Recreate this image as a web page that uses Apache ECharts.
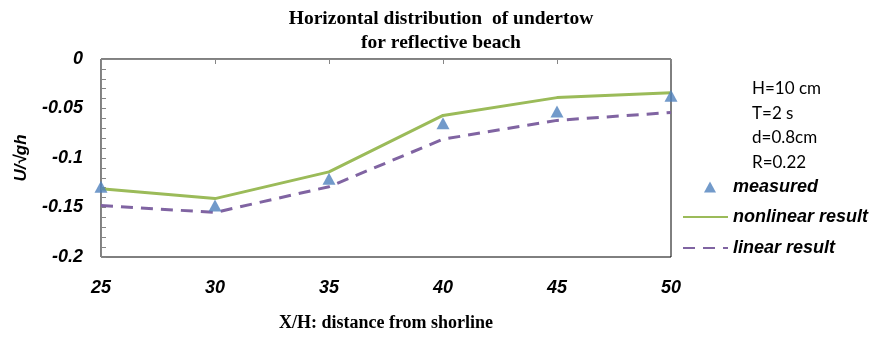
<!DOCTYPE html>
<html><head><meta charset="utf-8">
<script src="https://cdn.jsdelivr.net/npm/echarts@6/dist/echarts.min.js"></script>
<style>html,body{margin:0;padding:0;background:#fff}#c{width:870px;height:337px}</style>
</head><body><div id="c"></div>
<script>
const xValues = [25, 30, 35, 40, 45, 50];
const measured = [-0.129, -0.148, -0.121, -0.065, -0.053, -0.037];
const nonlinear = [-0.131, -0.141, -0.114, -0.057, -0.039, -0.034];
const linear = [-0.148, -0.155, -0.129, -0.081, -0.062, -0.054];
const infoLines = ['H=10 cm', 'T=2 s', 'd=0.8cm', 'R=0.22'];
const titleText = 'Horizontal distribution  of undertow\nfor reflective beach';

const pair = a => xValues.map((x, i) => [x, a[i]]);
const legText = {fontFamily: 'Liberation Sans, Arial', fontWeight: 'bold', fontStyle: 'italic', fontSize: 18, color: '#000'};

const chart = echarts.init(document.getElementById('c'), null, {renderer: 'canvas'});
chart.setOption({
  animation: false,
  backgroundColor: '#fff',
  title: {
    text: titleText, left: 436, top: 2, textAlign: 'center',
    textStyle: {fontFamily: 'Liberation Serif, Times New Roman', fontWeight: 'bold', fontSize: 19.5, lineHeight: 24, color: '#000'}
  },
  grid: {left: 101, right: 199, top: 59, bottom: 74, show: true, borderColor: '#000', borderWidth: 1},
  xAxis: {
    type: 'value', min: 25, max: 50, interval: 5,
    name: 'X/H: distance from shorline', nameLocation: 'middle', nameGap: 57,
    nameTextStyle: {fontFamily: 'Liberation Serif, Times New Roman', fontWeight: 'bold', fontSize: 18, color: '#000'},
    axisLine: {show: true, lineStyle: {color: '#868686', width: 1}},
    axisTick: {show: true, inside: false, length: 5, lineStyle: {color: '#868686'}},
    axisLabel: {margin: 22, fontFamily: 'Liberation Sans, Arial', fontWeight: 'bold', fontStyle: 'italic', fontSize: 18, color: '#000'},
    splitLine: {show: false}
  },
  yAxis: {
    type: 'value', min: -0.2, max: 0, interval: 0.05,
    name: 'U/√gh', nameLocation: 'middle', nameGap: 71, nameRotate: 90,
    nameTextStyle: {fontFamily: 'Liberation Sans, Arial', fontWeight: 'bold', fontStyle: 'italic', fontSize: 17, color: '#000'},
    axisLine: {show: true, lineStyle: {color: '#868686', width: 1}},
    axisTick: {show: true, inside: true, length: 5, lineStyle: {color: '#868686'}},
    minorTick: {show: true, splitNumber: 5, length: 5, lineStyle: {color: '#868686'}},
    axisLabel: {margin: 18, fontFamily: 'Liberation Sans, Arial', fontWeight: 'bold', fontStyle: 'italic', fontSize: 18, color: '#000'},
    splitLine: {show: false}
  },
  legend: [
    {data: ['measured'], left: 699, top: 173, itemWidth: 12, itemHeight: 11, icon: 'triangle',
     textStyle: Object.assign({padding: [0, 0, 0, 12]}, legText)},
    {data: ['nonlinear result'], left: 677, top: 203, itemWidth: 45, itemHeight: 14, itemStyle: {opacity: 0},
     textStyle: Object.assign({padding: [0, 0, 0, 0]}, legText)},
    {data: ['linear result'], left: 677, top: 234, itemWidth: 45, itemHeight: 14, itemStyle: {opacity: 0},
     textStyle: Object.assign({padding: [0, 0, 0, 0]}, legText)}
  ],
  graphic: infoLines.map((t, i) => ({
    type: 'text', left: 752, top: 80 + i * 24.6,
    style: {text: t, fontFamily: 'Lato, Carlito, sans-serif', fontSize: 17, fill: '#000'}
  })),
  series: [
    {name: 'nonlinear result', type: 'line', data: pair(nonlinear), symbol: 'none', z: 2,
     lineStyle: {color: '#9BBB59', width: 3}, itemStyle: {color: '#9BBB59'}},
    {name: 'linear result', type: 'line', data: pair(linear), symbol: 'none', z: 2,
     lineStyle: {color: '#8064A2', width: 3, type: [12, 8]}, itemStyle: {color: '#8064A2'}},
    {name: 'measured', type: 'scatter', data: pair(measured), symbol: 'triangle', symbolSize: [13, 12], z: 3,
     itemStyle: {color: '#4F81BD'}}
  ]
});
</script></body></html>
